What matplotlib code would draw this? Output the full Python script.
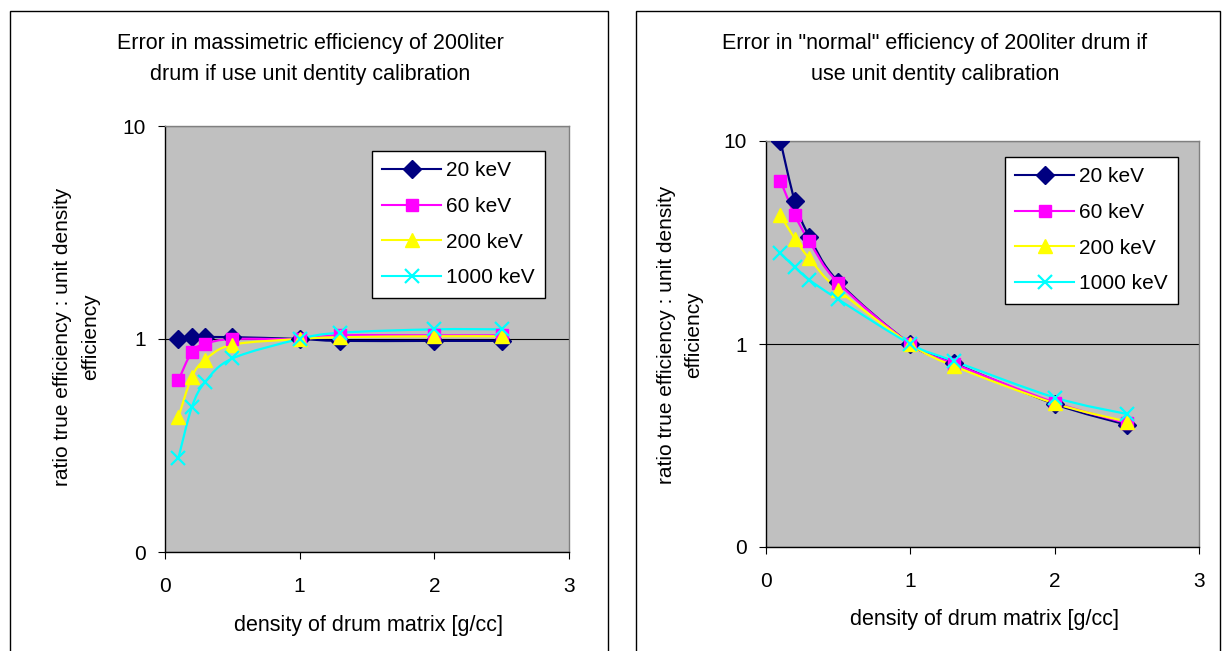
import numpy as np
import matplotlib
matplotlib.use("Agg")
import matplotlib.pyplot as plt
from matplotlib.path import Path
from matplotlib.patches import PathPatch, Rectangle
from matplotlib.lines import Line2D
from matplotlib.ticker import FixedLocator, FixedFormatter, NullLocator

plt.rcParams['font.family'] = ['Liberation Sans', 'DejaVu Sans']

density = [0.1, 0.2, 0.3, 0.5, 1.0, 1.3, 2.0, 2.5]
series_labels = ["20 keV", "60 keV", "200 keV", "1000 keV"]

# Left chart: massimetric efficiency ratio
mass_20 = [1.00, 1.02, 1.02, 1.02, 1.00, 0.98, 0.98, 0.98]
mass_60 = [0.64, 0.87, 0.95, 1.00, 1.00, 1.04, 1.04, 1.04]
mass_200 = [0.43, 0.665, 0.80, 0.94, 1.00, 1.02, 1.03, 1.03]
mass_1000 = [0.277, 0.48, 0.63, 0.81, 1.00, 1.07, 1.11, 1.11]

# Right chart: "normal" efficiency ratio
norm_20 = [10.0, 5.04, 3.38, 2.03, 1.00, 0.805, 0.506, 0.40]
norm_60 = [6.37, 4.31, 3.21, 2.00, 1.00, 0.80, 0.515, 0.408]
norm_200 = [4.31, 3.30, 2.64, 1.85, 1.00, 0.78, 0.51, 0.415]
norm_1000 = [2.80, 2.39, 2.07, 1.66, 1.00, 0.825, 0.545, 0.452]

ytick_vals = [0.1, 1, 10]
ytick_labels = ["0", "1", "10"]
xtick_vals = [0, 1, 2, 3]
xtick_labels = ["0", "1", "2", "3"]

titles = ["Error in massimetric efficiency of 200liter\ndrum if use unit dentity calibration",
          "Error in \"normal\" efficiency of 200liter drum if\nuse unit dentity calibration"]
xlabel = "density of drum matrix [g/cc]"
ylabel = "ratio true efficiency : unit density\nefficiency"

colors = ["#000080", "#FF00FF", "#FFFF00", "#00FFFF"]
markers = ["D", "s", "^", "x"]
msizes = [9.5, 9, 10.5, 10.5]

W, H = 1223, 651
fig = plt.figure(figsize=(W / 100, H / 100), dpi=100)
fig.patch.set_facecolor("white")

FS = 15
TFS = 15.5


def smooth_path(x, y):
    pts = np.column_stack([np.asarray(x, float), np.log10(np.asarray(y, float))])
    n = len(pts)
    verts = [pts[0]]
    codes = [Path.MOVETO]
    for i in range(n - 1):
        p0 = pts[i - 1] if i > 0 else pts[i]
        p1 = pts[i]
        p2 = pts[i + 1]
        p3 = pts[i + 2] if i + 2 < n else pts[i + 1]
        c1 = p1 + (p2 - p0) / 6.0
        c2 = p2 - (p3 - p1) / 6.0
        verts += [c1, c2, p2]
        codes += [Path.CURVE4] * 3
    verts = np.array(verts)
    verts[:, 1] = 10 ** verts[:, 1]
    return Path(verts, codes)


def px_rect(x0, y0, x1, y1):
    return [x0 / W, 1 - y1 / H, (x1 - x0) / W, (y1 - y0) / H]


panels = [
    dict(frame=(10, 11, 608, 700), ax=(165, 126, 569, 552),
         data=[mass_20, mass_60, mass_200, mass_1000],
         title_xy=(310, 59), xlabel_xy=(368, 625), ylabel_x=77, ylabel_y=337,
         legend=(372, 151)),
    dict(frame=(636, 11, 1220, 700), ax=(766, 141, 1199, 547),
         data=[norm_20, norm_60, norm_200, norm_1000],
         title_xy=(935, 59), xlabel_xy=(985, 620), ylabel_x=680, ylabel_y=335,
         legend=(1005, 157)),
]

for k, p in enumerate(panels):
    fx0, fy0, fx1, fy1 = p["frame"]
    fig.patches.append(Rectangle((fx0 / W, 1 - fy1 / H), (fx1 - fx0) / W, (fy1 - fy0) / H,
                                 transform=fig.transFigure, fill=False,
                                 edgecolor="black", linewidth=1.0))
    ax = fig.add_axes(px_rect(*p["ax"]))
    ax.set_facecolor("#C0C0C0")
    ax.set_yscale("log")
    ax.set_xlim(0, 3)
    ax.set_ylim(0.1, 10)
    ax.yaxis.set_major_locator(FixedLocator(ytick_vals))
    ax.yaxis.set_major_formatter(FixedFormatter(ytick_labels))
    ax.yaxis.set_minor_locator(NullLocator())
    ax.xaxis.set_major_locator(FixedLocator(xtick_vals))
    ax.xaxis.set_major_formatter(FixedFormatter(xtick_labels))
    ax.tick_params(axis="both", direction="out", length=5, width=0.8, labelsize=FS,
                   color="black")
    ax.tick_params(axis="x", pad=13)
    ax.tick_params(axis="y", pad=9)
    ax.yaxis.grid(True, which="major", color="black", linewidth=0.8)
    ax.set_axisbelow(True)
    for s in ["top", "right"]:
        ax.spines[s].set_color("#808080")
        ax.spines[s].set_linewidth(1.0)
    for s in ["left", "bottom"]:
        ax.spines[s].set_color("black")
        ax.spines[s].set_linewidth(1.0)

    handles = []
    for vals, c, m, ms, lab in zip(p["data"], colors, markers, msizes, series_labels):
        patch = PathPatch(smooth_path(density, vals), fill=False, edgecolor=c,
                          linewidth=1.6, zorder=3)
        ax.add_patch(patch)
        if m == "x":
            ax.plot(density, vals, linestyle="none", marker=m, markersize=ms,
                    markeredgecolor=c, markeredgewidth=1.6, zorder=4)
        else:
            ax.plot(density, vals, linestyle="none", marker=m, markersize=ms,
                    markerfacecolor=c, markeredgecolor=c, zorder=4)
        handles.append(Line2D([], [], color=c, linewidth=1.5, marker=m, markersize=ms,
                              markerfacecolor=c, markeredgecolor=c,
                              markeredgewidth=1.6 if m == "x" else 1.0, label=lab))

    lx, ly = p["legend"]
    leg = ax.legend(handles=handles, loc="upper left",
                    bbox_to_anchor=(lx / W, 1 - ly / H), bbox_transform=fig.transFigure,
                    frameon=True, fancybox=False, edgecolor="black", facecolor="white",
                    framealpha=1, fontsize=FS, handlelength=2.8, handletextpad=0.25,
                    labelspacing=0.8, borderpad=0.5, borderaxespad=0, markerscale=1.0)
    leg.get_frame().set_linewidth(1.0)

    tx, ty = p["title_xy"]
    fig.text(tx / W, 1 - ty / H, titles[k], ha="center", va="center", fontsize=TFS,
             linespacing=1.6)
    xx, xy = p["xlabel_xy"]
    fig.text(xx / W, 1 - xy / H, xlabel, ha="center", va="center", fontsize=TFS)
    fig.text(p["ylabel_x"] / W, 1 - p["ylabel_y"] / H, ylabel, ha="center", va="center",
             rotation=90, fontsize=FS, linespacing=1.6)

fig.savefig("out.png", dpi=100, facecolor="white")
